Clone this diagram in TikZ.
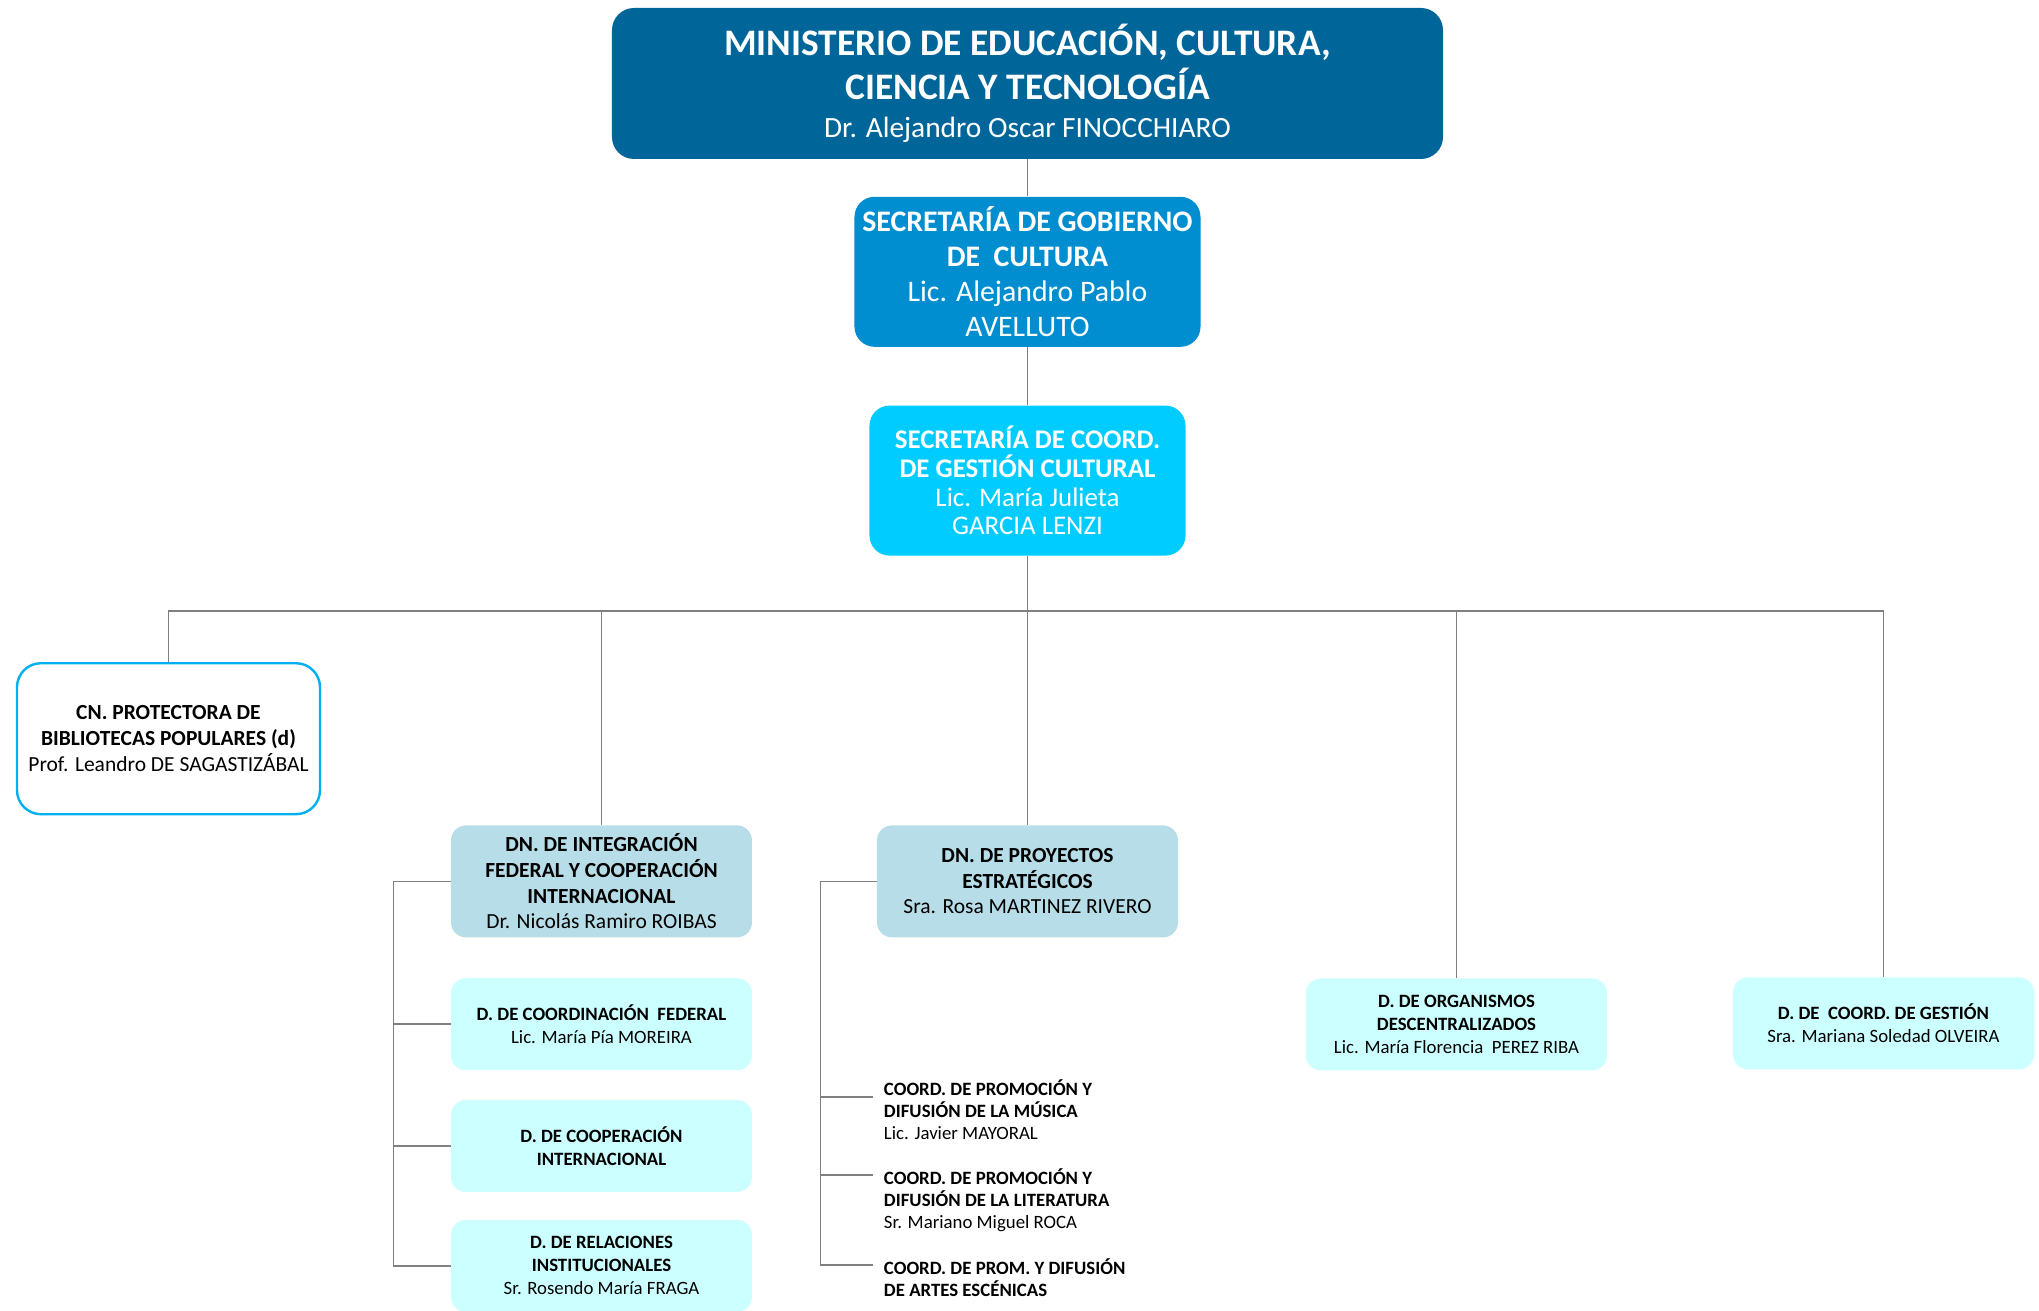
\documentclass[tikz,border=0pt]{standalone}
\usepackage{fontspec}
\setmainfont{Carlito}
\usetikzlibrary{positioning,calc}
\definecolor{minc}{HTML}{006699}
\definecolor{secc}{HTML}{008ED0}
\definecolor{coordc}{HTML}{00CCFF}
\definecolor{dnc}{HTML}{B7DEE8}
\definecolor{dc}{HTML}{CCFFFF}
\definecolor{cnc}{HTML}{00B0F0}
\definecolor{linec}{HTML}{808080}
\newcommand{\fsz}[2]{\fontsize{#1}{#2}\selectfont}
\tikzset{
  box/.style={rounded corners=7.5pt, inner sep=2pt, align=center, minimum width=150.5pt},
  dnbox/.style={box, fill=dnc, minimum height=56pt, font=\fsz{10.75}{12.8}},
  dbox/.style={box, fill=dc, minimum height=46pt, font=\fsz{9.4}{11.5}},
  subtxt/.style={align=left, anchor=north west, inner xsep=5.5pt, inner ysep=0pt, font=\fsz{9.4}{11}},
  conn/.style={draw=linec, line width=0.9pt},
}
\begin{document}
\begin{tikzpicture}
  \useasboundingbox (-513.75pt,41.75pt) rectangle (505.75pt,-613.75pt);
  \node[box, fill=minc, text=white, rounded corners=11pt, minimum width=415.5pt, minimum height=75.5pt, font=\fsz{18.7}{22}] (min)
    {\bfseries MINISTERIO DE EDUCACIÓN, CULTURA,\\ \bfseries CIENCIA Y TECNOLOGÍA\\[-3pt] \fsz{14.7}{17}Dr. Alejandro Oscar FINOCCHIARO};
  \node[box, fill=secc, text=white, rounded corners=10pt, minimum width=173pt, minimum height=75pt, font=\fsz{14.9}{17.5}, below=18.5pt of min] (sgc)
    {\bfseries SECRETARÍA DE GOBIERNO\\ \bfseries DE\ \ CULTURA\\ Lic. Alejandro Pablo\\ AVELLUTO};
  \node[box, fill=coordc, text=white, rounded corners=10pt, minimum width=158pt, minimum height=75pt, font=\fsz{13.45}{14.3}, below=29pt of sgc] (sgcc)
    {\bfseries SECRETARÍA DE COORD.\\ \bfseries DE GESTIÓN CULTURAL\\ Lic. María Julieta\\ GARCIA LENZI};
  \coordinate[below=27.5pt of sgcc] (bus);
  \coordinate (c1) at ($(bus)+(-429.5pt,0)$);
  \coordinate (c2) at ($(bus)+(-213pt,0)$);
  \coordinate (c4) at ($(bus)+(214.5pt,0)$);
  \coordinate (c5) at ($(bus)+(428pt,0)$);
  \node[box, fill=white, draw=cnc, line width=1.2pt, rounded corners=12pt, minimum width=151.5pt, minimum height=75.5pt, font=\fsz{10.75}{13}, below=25.5pt of c1] (cnp)
    {\bfseries CN. PROTECTORA DE\\ \bfseries BIBLIOTECAS POPULARES (d)\\ Prof. Leandro DE SAGASTIZÁBAL};
  \node[dnbox, below=107pt of c2] (dni)
    {\bfseries DN. DE INTEGRACIÓN\\ \bfseries FEDERAL Y COOPERACIÓN\\ \bfseries INTERNACIONAL\\ Dr. Nicolás Ramiro ROIBAS};
  \node[dnbox, below=107pt of bus] (dnp)
    {\bfseries DN. DE PROYECTOS\\ \bfseries ESTRATÉGICOS\\ Sra. Rosa MARTINEZ RIVERO};
  \node[dbox, below=183.5pt of c4] (dod)
    {\bfseries D. DE ORGANISMOS\\ \bfseries DESCENTRALIZADOS\\ Lic. María Florencia\ \ PEREZ RIBA};
  \node[dbox, below=183pt of c5] (dcg)
    {\bfseries D. DE\ \ COORD. DE GESTIÓN\\ Sra. Mariana Soledad OLVEIRA};
  \node[dbox, below=20pt of dni] (dcf)
    {\bfseries D. DE COORDINACIÓN\ \ FEDERAL\\ Lic. María Pía MOREIRA};
  \node[dbox, below=14.5pt of dcf] (dci)
    {\bfseries D. DE COOPERACIÓN\\ \bfseries INTERNACIONAL};
  \node[dbox, below=13.5pt of dci] (dri)
    {\bfseries D. DE RELACIONES\\ \bfseries INSTITUCIONALES\\ Sr. Rosendo María FRAGA};
  % coordinaciones de proyectos
  \coordinate (m1) at ($(dnp.south west)+(-2pt,-79.5pt)$);
  \coordinate (m2) at ($(dnp.south west)+(-2pt,-118.5pt)$);
  \coordinate (m3) at ($(dnp.south west)+(-2pt,-163.5pt)$);
  \node[subtxt] (cmu) at ($(m1)+(0,9pt)$)
    {\bfseries COORD. DE PROMOCIÓN Y\\ \bfseries DIFUSIÓN DE LA MÚSICA\\ Lic. Javier MAYORAL};
  \node[subtxt] (cli) at ($(m2)+(0,3.5pt)$)
    {\bfseries COORD. DE PROMOCIÓN Y\\ \bfseries DIFUSIÓN DE LA LITERATURA\\ Sr. Mariano Miguel ROCA};
  \node[subtxt] (cae) at ($(m3)+(0,3.5pt)$)
    {\bfseries COORD. DE PROM. Y DIFUSIÓN\\ \bfseries DE ARTES ESCÉNICAS};
  \draw[conn] (min) -- (sgc); \draw[conn] (sgc) -- (sgcc); \draw[conn] (sgcc) -- (dnp);
  \draw[conn] (c1) -- (c5);
  \draw[conn] (c1) -- (cnp); \draw[conn] (c2) -- (dni); \draw[conn] (c4) -- (dod); \draw[conn] (c5) -- (dcg);
  \draw[conn] (dni.west) -- ++(-28.5pt,0) coordinate (b1) |- (dri.west);
  \draw[conn] (b1 |- dcf.west) -- (dcf.west); \draw[conn] (b1 |- dci.west) -- (dci.west);
  \draw[conn] (dnp.west) -- ++(-28pt,0) coordinate (b2) |- (m3);
  \draw[conn] (b2 |- m1) -- (m1); \draw[conn] (b2 |- m2) -- (m2);
\end{tikzpicture}
\end{document}
